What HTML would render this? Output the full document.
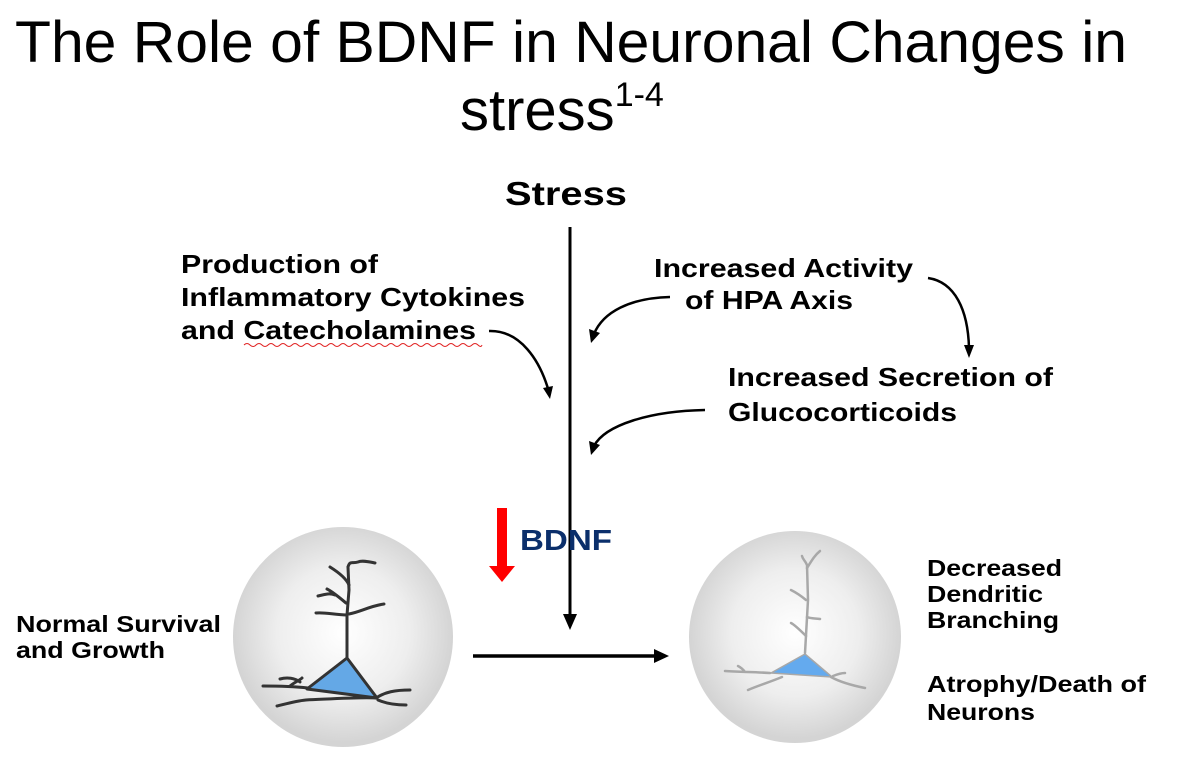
<!DOCTYPE html>
<html><head><meta charset="utf-8"><style>
html,body{margin:0;padding:0;background:#fff;}
svg{display:block;}
text{font-family:"Liberation Sans",Arial,sans-serif;}
.b{font-weight:bold;font-size:26px;fill:#000;}
.s{font-weight:bold;font-size:23px;fill:#000;}
</style></head><body>
<svg width="1182" height="758" viewBox="0 0 1182 758" xmlns="http://www.w3.org/2000/svg">
<defs>
<radialGradient id="g" cx="0.5" cy="0.48" r="0.5">
<stop offset="0" stop-color="#ffffff"/><stop offset="0.6" stop-color="#eeeeee"/><stop offset="1" stop-color="#d4d4d4"/>
</radialGradient>
</defs>
<text x="15" y="62" font-size="58" textLength="1112" lengthAdjust="spacingAndGlyphs">The Role of BDNF in Neuronal Changes in</text>
<text x="460" y="130" font-size="58">stress<tspan font-size="34" dy="-24">1-4</tspan></text>
<text x="505" y="205" font-weight="bold" font-size="33" textLength="122" lengthAdjust="spacingAndGlyphs">Stress</text>

<text class="b" x="181" y="273" textLength="197" lengthAdjust="spacingAndGlyphs">Production of</text>
<text class="b" x="181" y="306" textLength="344" lengthAdjust="spacingAndGlyphs">Inflammatory Cytokines</text>
<text class="b" x="181" y="339" textLength="295" lengthAdjust="spacingAndGlyphs">and Catecholamines</text>
<path d="M244,345 q3,-3 6,0 t6,0 t6,0 t6,0 t6,0 t6,0 t6,0 t6,0 t6,0 t6,0 t6,0 t6,0 t6,0 t6,0 t6,0 t6,0 t6,0 t6,0 t6,0 t6,0 t6,0 t6,0 t6,0 t6,0 t6,0 t6,0 t6,0 t6,0 t6,0 t6,0 t6,0 t6,0 t6,0 t6,0 t6,0 t6,0 t6,0 t6,0 t6,0 t4,0" fill="none" stroke="#e02020" stroke-width="1"/>
<text class="b" x="654" y="277" textLength="259" lengthAdjust="spacingAndGlyphs">Increased Activity</text>
<text class="b" x="685" y="309" textLength="168" lengthAdjust="spacingAndGlyphs">of HPA Axis</text>
<text class="b" x="728" y="386" textLength="325" lengthAdjust="spacingAndGlyphs">Increased Secretion of</text>
<text class="b" x="728" y="421" textLength="229" lengthAdjust="spacingAndGlyphs">Glucocorticoids</text>

<line x1="570" y1="227" x2="570" y2="620" stroke="#000" stroke-width="3"/>
<path d="M563,614 L570,630 L577,614 Z" fill="#000"/>
<line x1="473" y1="656" x2="656" y2="656" stroke="#000" stroke-width="3.5"/>
<path d="M654,649 L669,656 L654,663 Z" fill="#000"/>

<path d="M489,331 C520,330 540,360 549,392" fill="none" stroke="#000" stroke-width="2.5"/>
<path d="M543,388 L550,399 L553,386 Z" fill="#000"/>
<path d="M670,297 C630,298 603,312 594,334" fill="none" stroke="#000" stroke-width="2.5"/>
<path d="M589,329 L591,343 L600,333 Z" fill="#000"/>
<path d="M928,278 C955,282 968,310 969,348" fill="none" stroke="#000" stroke-width="2.5"/>
<path d="M964,345 L969,358 L974,345 Z" fill="#000"/>
<path d="M705,410 C650,411 605,425 594,446" fill="none" stroke="#000" stroke-width="2.5"/>
<path d="M589,441 L591,455 L600,445 Z" fill="#000"/>

<rect x="497" y="508" width="10" height="60" fill="#ff0000"/>
<path d="M489,566 L515,566 L502,582 Z" fill="#ff0000"/>
<text x="520" y="550" font-weight="bold" font-size="29" fill="#0b2f6b" textLength="92" lengthAdjust="spacingAndGlyphs">BDNF</text>

<circle cx="343" cy="637" r="110" fill="url(#g)"/>
<circle cx="795" cy="637" r="106" fill="url(#g)"/>

<g fill="none" stroke="#333" stroke-width="3" stroke-linecap="round">
<path d="M347,658 L347,615 L349,590 L348,567"/>
<path d="M348,567 C350,560 352,564 358,562 C362,560 370,562 375,563"/>
<path d="M349,585 C346,578 338,572 330,567"/>
<path d="M346,603 C340,598 333,592 327,589 M335,595 C330,593 326,594 318,596"/>
<path d="M347,615 C335,615 325,612 316,613"/>
<path d="M349,614 C360,612 370,606 384,604"/>
<path d="M308,688 C290,686 275,686 263,686 M290,686 C295,682 300,680 302,678 M300,682 C295,678 287,677 280,679"/>
<path d="M376,698 C360,697 330,699 306,700 C295,701 282,705 277,706"/>
<path d="M376,698 C385,692 395,690 410,690 M378,700 C385,703 395,705 406,705"/>
</g>
<path d="M347,658 L307,689 L377,698 Z" fill="#64a8e6" stroke="#333" stroke-width="3" stroke-linejoin="round"/>

<g fill="none" stroke="#a8a8a8" stroke-width="2.5" stroke-linecap="round">
<path d="M805,653 L808,600 L807,565 C805,560 803,560 802,556"/>
<path d="M807,568 C812,560 815,555 820,551"/>
<path d="M806,600 C800,595 795,592 791,590"/>
<path d="M807,617 C812,619 815,618 820,619"/>
<path d="M806,636 C800,630 795,625 791,623"/>
<path d="M770,673 C755,672 740,672 725,671 M745,672 C742,668 740,667 738,666"/>
<path d="M782,677 C770,682 757,686 748,690"/>
<path d="M831,677 C840,682 855,686 865,688 M833,676 C838,674 842,673 845,673"/>
</g>
<path d="M805,654 L771,673 L832,677 Z" fill="#64aaee" stroke="#a8a8a8" stroke-width="1.5" stroke-linejoin="round"/>

<text class="s" x="16" y="632" textLength="205" lengthAdjust="spacingAndGlyphs">Normal Survival</text>
<text class="s" x="16" y="658" textLength="149" lengthAdjust="spacingAndGlyphs">and Growth</text>
<text class="s" x="927" y="576" textLength="135" lengthAdjust="spacingAndGlyphs">Decreased</text>
<text class="s" x="927" y="602" textLength="116" lengthAdjust="spacingAndGlyphs">Dendritic</text>
<text class="s" x="927" y="628" textLength="132" lengthAdjust="spacingAndGlyphs">Branching</text>
<text class="s" x="927" y="692" textLength="219" lengthAdjust="spacingAndGlyphs">Atrophy/Death of</text>
<text class="s" x="927" y="720" textLength="108" lengthAdjust="spacingAndGlyphs">Neurons</text>
</svg>
</body></html>
